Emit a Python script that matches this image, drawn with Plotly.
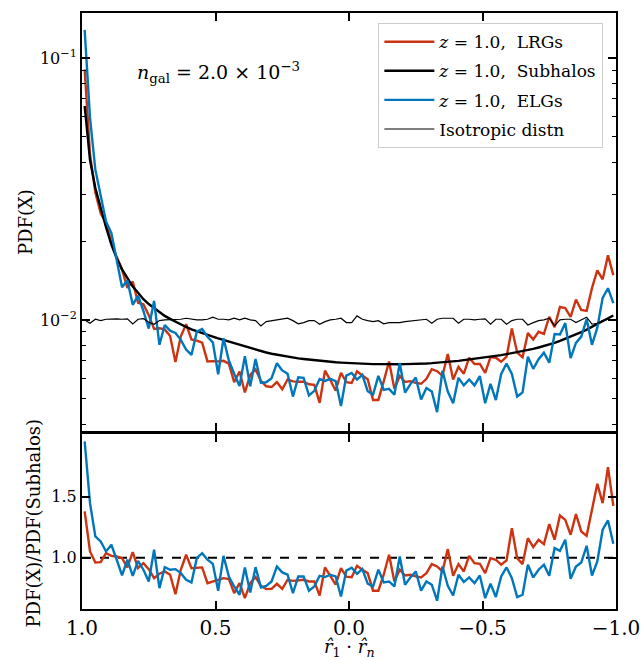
import numpy as np
import plotly.graph_objects as go

# ---------------- data ----------------
# bin centres of r1.rn (100 bins over [-1, 1]), ordered from +1 to -1
bin_centers = np.linspace(0.99, -0.99, 100)

# Subhalo PDF (smooth black curve, top panel)
pdf_subhalos = [
    0.0656, 0.0408, 0.0319, 0.0265, 0.0226, 0.0194, 0.0172, 0.0156, 0.0144, 0.0134,
    0.0127, 0.0120, 0.0115, 0.0111, 0.0107, 0.01036, 0.01009, 0.00983, 0.00960, 0.00940,
    0.00921, 0.00905, 0.00889, 0.00877, 0.00864, 0.00850, 0.00838, 0.00826, 0.00814, 0.00802,
    0.00790, 0.00779, 0.00769, 0.00760, 0.00751, 0.00743, 0.00736, 0.00729, 0.00723, 0.00718,
    0.00713, 0.00709, 0.00705, 0.00701, 0.00698, 0.00695, 0.00692, 0.00689, 0.00687, 0.00685,
    0.00683, 0.00681, 0.00680, 0.00679, 0.00678, 0.00678, 0.00677, 0.00677, 0.00677, 0.00677,
    0.00678, 0.00678, 0.00679, 0.00680, 0.00682, 0.00684, 0.00686, 0.00689, 0.00692, 0.00695,
    0.00698, 0.00702, 0.00706, 0.00710, 0.00714, 0.00719, 0.00724, 0.00729, 0.00734, 0.00740,
    0.00746, 0.00752, 0.00759, 0.00767, 0.00775, 0.00785, 0.00795, 0.00806, 0.00818, 0.00832,
    0.00847, 0.00863, 0.00880, 0.00898, 0.00918, 0.00940, 0.00963, 0.00987, 0.01012, 0.01040,
]

# Ratio PDF(LRGs)/PDF(Subhalos) (bottom panel, red)
ratio_lrg = [
    1.380, 1.052, 0.962, 0.964, 1.038, 1.016, 1.011, 0.997, 0.921, 1.046,
    0.915, 0.956, 0.907, 0.833, 0.869, 0.888, 0.861, 0.702, 0.902, 1.025,
    0.915, 0.921, 0.921, 0.792, 0.806, 0.817, 0.833, 0.825, 0.710, 0.792,
    0.669, 0.792, 0.842, 0.770, 0.743, 0.746, 0.787, 0.746, 0.820, 0.811,
    0.814, 0.820, 0.806, 0.806, 0.691, 0.921, 0.852, 0.779, 0.915, 0.845,
    0.841, 0.934, 0.902, 0.874, 0.730, 0.730, 0.861, 1.025, 0.806, 0.902,
    0.855, 0.861, 0.847, 0.839, 0.874, 0.948, 0.929, 0.888, 1.071, 0.852,
    0.948, 0.888, 1.016, 0.956, 0.951, 0.874, 0.997, 0.984, 0.943, 0.978,
    1.243, 0.997, 0.948, 1.161, 1.087, 1.148, 1.112, 1.276, 1.148, 1.347,
    1.311, 1.189, 1.358, 1.216, 1.180, 1.407, 1.607, 1.448, 1.743, 1.426,
]

# Ratio PDF(ELGs)/PDF(Subhalos) (bottom panel, blue)
ratio_elg = [
    1.954, 1.448, 1.175, 1.134, 1.052, 1.107, 0.984, 0.855, 0.984, 0.852,
    0.975, 0.902, 0.806, 1.066, 0.751, 0.923, 0.902, 0.907, 0.874, 0.820,
    0.798, 0.997, 1.038, 0.984, 0.950, 0.730, 1.016, 0.847, 0.765, 0.697,
    0.921, 0.716, 0.923, 0.757, 0.770, 0.806, 0.929, 0.880, 0.861, 0.710,
    0.847, 0.847, 0.730, 0.765, 0.852, 0.842, 0.861, 0.847, 0.683, 0.895,
    0.918, 0.869, 0.907, 0.787, 0.765, 0.902, 0.798, 0.806, 0.765, 1.011,
    0.779, 0.839, 0.888, 0.730, 0.806, 0.779, 0.648, 0.929, 0.770, 0.691,
    0.861, 0.801, 0.839, 0.792, 0.855, 0.669, 0.787, 0.678, 0.847, 0.921,
    0.833, 0.678, 0.697, 0.943, 0.839, 0.902, 0.943, 0.852, 1.079, 1.057,
    1.148, 0.828, 0.929, 0.962, 1.098, 0.855, 0.970, 1.230, 1.306, 1.115,
]

# Isotropic distribution PDF (thin black line)
pdf_isotropic = [
    0.01000, 0.00971, 0.01006, 0.00994, 0.01006, 0.01009, 0.01009, 0.01006, 0.01009, 0.00966,
    0.01006, 0.01012, 0.00980, 0.00963, 0.00994, 0.01000, 0.01000, 0.01000, 0.01006, 0.01015,
    0.01006, 0.01000, 0.01000, 0.01006, 0.01024, 0.01006, 0.01006, 0.01000, 0.01015, 0.01000,
    0.01015, 0.01000, 0.00994, 0.00949, 0.00985, 0.00994, 0.01000, 0.01009, 0.01015, 0.00994,
    0.00966, 0.00977, 0.00994, 0.00994, 0.00963, 0.00985, 0.01000, 0.01006, 0.01015, 0.00977,
    0.00977, 0.01036, 0.01006, 0.00994, 0.00985, 0.00994, 0.00966, 0.00977, 0.00977, 0.00977,
    0.00985, 0.00991, 0.00994, 0.01006, 0.01006, 0.00971, 0.01006, 0.01015, 0.01015, 0.01015,
    0.00971, 0.01006, 0.01006, 0.01000, 0.01006, 0.01009, 0.00963, 0.01006, 0.01006, 0.00963,
    0.00994, 0.01006, 0.01006, 0.00957, 0.00977, 0.00994, 0.01000, 0.01015, 0.00949, 0.01000,
    0.01006, 0.01006, 0.00977, 0.01000, 0.01024, 0.00963, 0.00971, 0.00994, 0.01006, 0.00994,
]

ratio_ref = 1.0
x_ticks = [1.0, 0.5, 0.0, -0.5, -1.0]
x_ticktext = ["1.0", "0.5", "0.0", "\u22120.5", "\u22121.0"]
y_top_ticks = [0.01, 0.1]
y_top_ticktext = ["10<sup>\u22122</sup>", "10<sup>\u22121</sup>"]
y_top_minor = [0.004, 0.005, 0.006, 0.007, 0.008, 0.009,
               0.02, 0.03, 0.04, 0.05, 0.06, 0.07, 0.08, 0.09]
y_bot_ticks = [1.0, 1.5]
y_bot_ticktext = ["1.0", "1.5"]

pdf_lrg = np.array(ratio_lrg) * np.array(pdf_subhalos)
pdf_elg = np.array(ratio_elg) * np.array(pdf_subhalos)

RED = "#CC3311"
BLUE = "#0077BB"
FONT = "DejaVu Serif"

fig = go.Figure()

# ---- top panel ----
fig.add_trace(go.Scatter(x=bin_centers, y=pdf_lrg, mode="lines",
                         line=dict(color=RED, width=2.4), legendgroup="a",
                         name="<i>z</i> = 1.0,  LRGs", xaxis="x", yaxis="y"))
fig.add_trace(go.Scatter(x=bin_centers, y=pdf_subhalos, mode="lines",
                         line=dict(color="black", width=2.4), legendgroup="b",
                         name="<i>z</i> = 1.0,  Subhalos", xaxis="x", yaxis="y"))
fig.add_trace(go.Scatter(x=bin_centers, y=pdf_elg, mode="lines",
                         line=dict(color=BLUE, width=2.4), legendgroup="c",
                         name="<i>z</i> = 1.0,  ELGs", xaxis="x", yaxis="y"))
fig.add_trace(go.Scatter(x=bin_centers, y=pdf_isotropic, mode="lines",
                         line=dict(color="black", width=1.2), legendgroup="d",
                         name="Isotropic distn", xaxis="x", yaxis="y"))

# ---- bottom panel ----
fig.add_trace(go.Scatter(x=bin_centers, y=ratio_lrg, mode="lines",
                         line=dict(color=RED, width=2.4), showlegend=False,
                         xaxis="x2", yaxis="y2"))
fig.add_trace(go.Scatter(x=bin_centers, y=ratio_elg, mode="lines",
                         line=dict(color=BLUE, width=2.4), showlegend=False,
                         xaxis="x2", yaxis="y2"))

fig.add_shape(type="line", xref="x2 domain", yref="y2", x0=0, x1=1,
              y0=ratio_ref, y1=ratio_ref,
              line=dict(color="black", width=2, dash="dash"), layer="below")

axis_common = dict(showline=True, linewidth=2, linecolor="black", mirror="allticks",
                   ticks="inside", ticklen=8, tickwidth=1.5, tickcolor="black",
                   showgrid=False, zeroline=False, automargin=False)

fig.update_layout(
    width=643, height=660,
    margin=dict(l=82, r=27, t=13, b=51),
    paper_bgcolor="white", plot_bgcolor="white",
    font=dict(family=FONT, color="black", size=16),
    xaxis=dict(domain=[0, 1], anchor="y", range=[1.0, -1.0],
               tickvals=x_ticks, showticklabels=False, **axis_common),
    xaxis2=dict(domain=[0, 1], anchor="y2", range=[1.0, -1.0], matches="x",
                tickvals=x_ticks, ticktext=x_ticktext,
                tickfont=dict(size=20, family=FONT), **axis_common),
    yaxis=dict(domain=[0.2987, 1], anchor="x", type="log", range=[-2.424, -0.828],
               tickvals=y_top_ticks, ticktext=y_top_ticktext,
               tickfont=dict(size=16, family=FONT),
               minor=dict(ticks="inside", ticklen=4, tickwidth=1.2, tickcolor="black",
                          tickvals=y_top_minor, showgrid=False),
               **axis_common),
    yaxis2=dict(domain=[0, 0.2936], anchor="x2", range=[0.58, 2.015],
                tickvals=y_bot_ticks, ticktext=y_bot_ticktext,
                tickfont=dict(size=16, family=FONT), **axis_common),
    legend=dict(x=0.555, y=0.983, xanchor="left", yanchor="top",
                bgcolor="white", bordercolor="#cccccc", borderwidth=1,
                font=dict(size=17, family=FONT), tracegroupgap=4,
                itemwidth=50),
    showlegend=True,
)

fig.add_annotation(text="<i>n</i><sub>gal</sub> = 2.0 \u00d7 10<sup>\u22123</sup>",
                   xref="paper", yref="paper", x=0.099, y=0.901,
                   xanchor="left", yanchor="middle", showarrow=False,
                   font=dict(size=19, family=FONT))
fig.add_annotation(text="PDF(X)", xref="paper", yref="paper", x=-0.107, y=0.649,
                   xanchor="center", yanchor="middle", textangle=-90, showarrow=False,
                   font=dict(size=18, family=FONT))
fig.add_annotation(text="PDF(X)/PDF(Subhalos)", xref="paper", yref="paper",
                   x=-0.09, y=0.145, xanchor="center", yanchor="middle",
                   textangle=-90, showarrow=False, font=dict(size=18, family=FONT))
fig.add_annotation(text="<i>r\u0302</i><sub>1</sub> \u00b7 <i>r\u0302</i><sub><i>n</i></sub>",
                   xref="paper", yref="paper", x=0.5, y=-0.066,
                   xanchor="center", yanchor="middle", showarrow=False,
                   font=dict(size=18, family=FONT))

fig.write_html("out.html")
